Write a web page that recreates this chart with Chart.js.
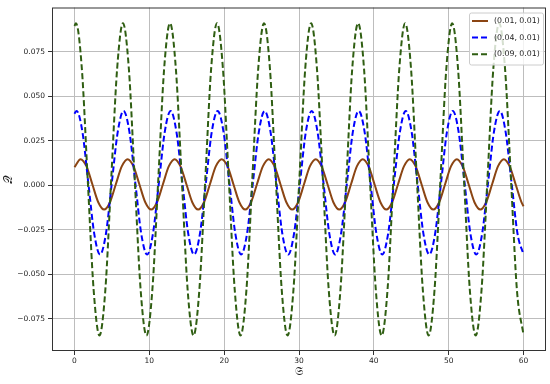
<!DOCTYPE html>
<html lang="en">
<head>
  <meta charset="UTF-8">
  <title>Q vs S</title>
  <script src="https://cdn.jsdelivr.net/npm/chart.js"></script>
  <style>
    body {
      margin: 0;
      background: #fff;
    }
    #wrap {
      width: 550px;
      height: 384px;
    }
  </style>
</head>
<body>
  <div id="wrap"><canvas id="waveChart"></canvas></div>

  <script>
    // values: extrema, half-height points and crossings
    const brownLabel = '(0.01, 0.01)';
    const brownX = [0,
      0.82, 1.61, 2.39, 3.18, 3.96, 4.75, 5.53, 6.32,
      7.10, 7.89, 8.67, 9.46, 10.25, 11.03, 11.82, 12.60,
      13.39, 14.17, 14.96, 15.74, 16.53, 17.31, 18.10, 18.88,
      19.67, 20.46, 21.24, 22.03, 22.81, 23.60, 24.38, 25.17,
      25.95, 26.74, 27.52, 28.31, 29.09, 29.88, 30.67, 31.45,
      32.24, 33.02, 33.81, 34.59, 35.38, 36.16, 36.95, 37.73,
      38.52, 39.31, 40.09, 40.88, 41.66, 42.45, 43.23, 44.02,
      44.80, 45.59, 46.37, 47.16, 47.94, 48.73, 49.52, 50.30,
      51.09, 51.87, 52.66, 53.44, 54.23, 55.01, 55.80, 56.58,
      57.37, 58.15, 58.94, 59.72, 60];
    const brownY = [0.0101,
      0.0146, 0.0105, 0.0005, -0.0096, -0.0137, -0.0096, 0.0005, 0.0105,
      0.0146, 0.0105, 0.0005, -0.0096, -0.0137, -0.0096, 0.0005, 0.0105,
      0.0146, 0.0105, 0.0005, -0.0096, -0.0137, -0.0096, 0.0005, 0.0105,
      0.0146, 0.0105, 0.0005, -0.0096, -0.0137, -0.0096, 0.0005, 0.0105,
      0.0146, 0.0105, 0.0005, -0.0096, -0.0137, -0.0096, 0.0005, 0.0105,
      0.0146, 0.0105, 0.0005, -0.0096, -0.0137, -0.0096, 0.0005, 0.0105,
      0.0146, 0.0105, 0.0005, -0.0096, -0.0137, -0.0096, 0.0005, 0.0105,
      0.0146, 0.0105, 0.0005, -0.0096, -0.0137, -0.0096, 0.0005, 0.0105,
      0.0146, 0.0105, 0.0005, -0.0096, -0.0137, -0.0096, 0.0005, 0.0105,
      0.0146, 0.0105, 0.0005, -0.0096, -0.0119];

    const blueLabel = '(0.04, 0.01)';
    const blueX = [0,
      0.28, 1.07, 1.85, 2.64, 3.42, 4.21, 4.99, 5.78,
      6.56, 7.35, 8.13, 8.92, 9.71, 10.49, 11.28, 12.06,
      12.85, 13.63, 14.42, 15.20, 15.99, 16.77, 17.56, 18.34,
      19.13, 19.92, 20.70, 21.49, 22.27, 23.06, 23.84, 24.63,
      25.41, 26.20, 26.98, 27.77, 28.55, 29.34, 30.13, 30.91,
      31.70, 32.48, 33.27, 34.05, 34.84, 35.62, 36.41, 37.19,
      37.98, 38.77, 39.55, 40.34, 41.12, 41.91, 42.69, 43.48,
      44.26, 45.05, 45.83, 46.62, 47.40, 48.19, 48.98, 49.76,
      50.55, 51.33, 52.12, 52.90, 53.69, 54.47, 55.26, 56.04,
      56.83, 57.61, 58.40, 59.19, 60];
    const blueY = [0.0401,
      0.0417, 0.0298, 0.0013, -0.0272, -0.0390, -0.0272, 0.0013, 0.0298,
      0.0417, 0.0298, 0.0013, -0.0272, -0.0390, -0.0272, 0.0013, 0.0298,
      0.0417, 0.0298, 0.0013, -0.0272, -0.0390, -0.0272, 0.0013, 0.0298,
      0.0417, 0.0298, 0.0013, -0.0272, -0.0390, -0.0272, 0.0013, 0.0298,
      0.0417, 0.0298, 0.0013, -0.0272, -0.0390, -0.0272, 0.0013, 0.0298,
      0.0417, 0.0298, 0.0013, -0.0272, -0.0390, -0.0272, 0.0013, 0.0298,
      0.0417, 0.0298, 0.0013, -0.0272, -0.0390, -0.0272, 0.0013, 0.0298,
      0.0417, 0.0298, 0.0013, -0.0272, -0.0390, -0.0272, 0.0013, 0.0298,
      0.0417, 0.0298, 0.0013, -0.0272, -0.0390, -0.0272, 0.0013, 0.0298,
      0.0417, 0.0298, 0.0013, -0.0272, -0.0390];

    const greenLabel = '(0.09, 0.01)';
    const greenX = [0,
      0.20, 0.99, 1.77, 2.56, 3.34, 4.13, 4.91, 5.70,
      6.48, 7.27, 8.05, 8.84, 9.62, 10.41, 11.20, 11.98,
      12.77, 13.55, 14.34, 15.12, 15.91, 16.69, 17.48, 18.26,
      19.05, 19.84, 20.62, 21.41, 22.19, 22.98, 23.76, 24.55,
      25.33, 26.12, 26.90, 27.69, 28.47, 29.26, 30.05, 30.83,
      31.62, 32.40, 33.19, 33.97, 34.76, 35.54, 36.33, 37.11,
      37.90, 38.69, 39.47, 40.26, 41.04, 41.83, 42.61, 43.40,
      44.18, 44.97, 45.75, 46.54, 47.32, 48.11, 48.90, 49.68,
      50.47, 51.25, 52.04, 52.82, 53.61, 54.39, 55.18, 55.96,
      56.75, 57.53, 58.32, 59.11, 60];
    const greenY = [0.0894,
      0.0910, 0.0653, 0.0033, -0.0587, -0.0845, -0.0587, 0.0033, 0.0653,
      0.0910, 0.0653, 0.0033, -0.0587, -0.0845, -0.0587, 0.0033, 0.0653,
      0.0910, 0.0653, 0.0033, -0.0587, -0.0845, -0.0587, 0.0033, 0.0653,
      0.0910, 0.0653, 0.0033, -0.0587, -0.0845, -0.0587, 0.0033, 0.0653,
      0.0910, 0.0653, 0.0033, -0.0587, -0.0845, -0.0587, 0.0033, 0.0653,
      0.0910, 0.0653, 0.0033, -0.0587, -0.0845, -0.0587, 0.0033, 0.0653,
      0.0910, 0.0653, 0.0033, -0.0587, -0.0845, -0.0587, 0.0033, 0.0653,
      0.0910, 0.0653, 0.0033, -0.0587, -0.0845, -0.0587, 0.0033, 0.0653,
      0.0910, 0.0653, 0.0033, -0.0587, -0.0845, -0.0587, 0.0033, 0.0653,
      0.0910, 0.0653, 0.0033, -0.0587, -0.0843];

    const xTicks = [0, 10, 20, 30, 40, 50, 60];
    const yTicks = [-0.075, -0.05, -0.025, 0, 0.025, 0.05, 0.075];
    const xTitle = '𝔖';
    const yTitle = '𝒬';

    function toPoints(xs, ys) {
      return xs.map((x, i) => ({ x: x, y: ys[i] }));
    }

    function formatY(v) {
      return (v < 0 ? '\u2212' : '') + Math.abs(v).toFixed(3);
    }

    const tickFont = { family: 'DejaVu Sans', size: 7.5 };

    // frame round the plot, like matplotlib spines
    const framePlugin = {
      id: 'frame',
      afterDatasetsDraw(chart) {
        const a = chart.chartArea;
        const ctx = chart.ctx;
        ctx.save();
        ctx.strokeStyle = '#333';
        ctx.lineWidth = 1;
        ctx.strokeRect(a.left + 0.5, a.top + 0.5, a.right - a.left - 1, a.bottom - a.top - 1);
        ctx.restore();
      }
    };

    // legend box in the upper right corner of the plot
    const insideLegend = {
      id: 'insideLegend',
      afterDraw(chart) {
        const a = chart.chartArea;
        const ctx = chart.ctx;
        const x0 = a.right - 77, y0 = a.top + 5, w = 74, h = 52;
        ctx.save();
        ctx.fillStyle = 'rgba(255,255,255,0.8)';
        ctx.strokeStyle = '#cccccc';
        ctx.lineWidth = 1;
        ctx.beginPath();
        ctx.roundRect(x0 + 0.5, y0 + 0.5, w, h, 2);
        ctx.fill();
        ctx.stroke();
        chart.data.datasets.forEach((ds, i) => {
          const y = y0 + 8.5 + i * 16.6;
          ctx.strokeStyle = ds.borderColor;
          ctx.lineWidth = ds.borderWidth;
          ctx.setLineDash(ds.borderDash || []);
          ctx.beginPath();
          ctx.moveTo(x0 + 3, y);
          ctx.lineTo(x0 + 19, y);
          ctx.stroke();
          ctx.setLineDash([]);
          ctx.fillStyle = '#222';
          ctx.font = '7.8px "DejaVu Sans"';
          ctx.textBaseline = 'middle';
          ctx.fillText(ds.label, x0 + 25, y);
        });
        ctx.restore();
      }
    };

    new Chart(document.getElementById('waveChart'), {
      type: 'line',
      data: {
        datasets: [
          { label: brownLabel, data: toPoints(brownX, brownY), borderColor: '#8b4513',
            borderWidth: 2, order: 3 },
          { label: blueLabel, data: toPoints(blueX, blueY), borderColor: '#0000ff',
            borderWidth: 2, borderDash: [6, 3], order: 2 },
          { label: greenLabel, data: toPoints(greenX, greenY), borderColor: '#2f5e12',
            borderWidth: 2, borderDash: [6, 3], order: 1 }
        ]
      },
      options: {
        responsive: true,
        maintainAspectRatio: false,
        animation: false,
        parsing: false,
        datasets: {
          line: { pointRadius: 0, fill: false, cubicInterpolationMode: 'monotone' }
        },
        layout: { padding: { top: 3, right: 4, bottom: 0, left: 0 } },
        plugins: {
          legend: { display: false },
          tooltip: { enabled: false }
        },
        scales: {
          x: {
            type: 'linear',
            min: -3,
            max: 63,
            afterBuildTicks: axis => { axis.ticks = xTicks.map(v => ({ value: v })); },
            afterFit: axis => { axis.height = 33; },
            grid: { color: '#bdbdbd', lineWidth: 1, tickColor: '#333', tickLength: 4 },
            border: { display: false },
            ticks: { font: tickFont, color: '#222', padding: 2, maxRotation: 0,
                     callback: v => String(v) },
            title: { display: true, text: xTitle, color: '#222',
                     font: { family: 'DejaVu Sans', size: 12 }, padding: { top: 0, bottom: 4.5 } }
          },
          y: {
            type: 'linear',
            min: -0.0932,
            max: 0.0998,
            afterBuildTicks: axis => { axis.ticks = yTicks.map(v => ({ value: v })); },
            afterFit: axis => { axis.width = 52; },
            grid: { color: '#bdbdbd', lineWidth: 1, tickColor: '#333', tickLength: 4 },
            border: { display: false },
            ticks: { font: tickFont, color: '#222', padding: 3, callback: v => formatY(v) },
            title: { display: true, text: yTitle, color: '#222',
                     font: { family: 'DejaVu Sans', size: 12 }, padding: { top: 1.5, bottom: 0 } }
          }
        }
      },
      plugins: [framePlugin, insideLegend]
    });
  </script>
</body>
</html>
